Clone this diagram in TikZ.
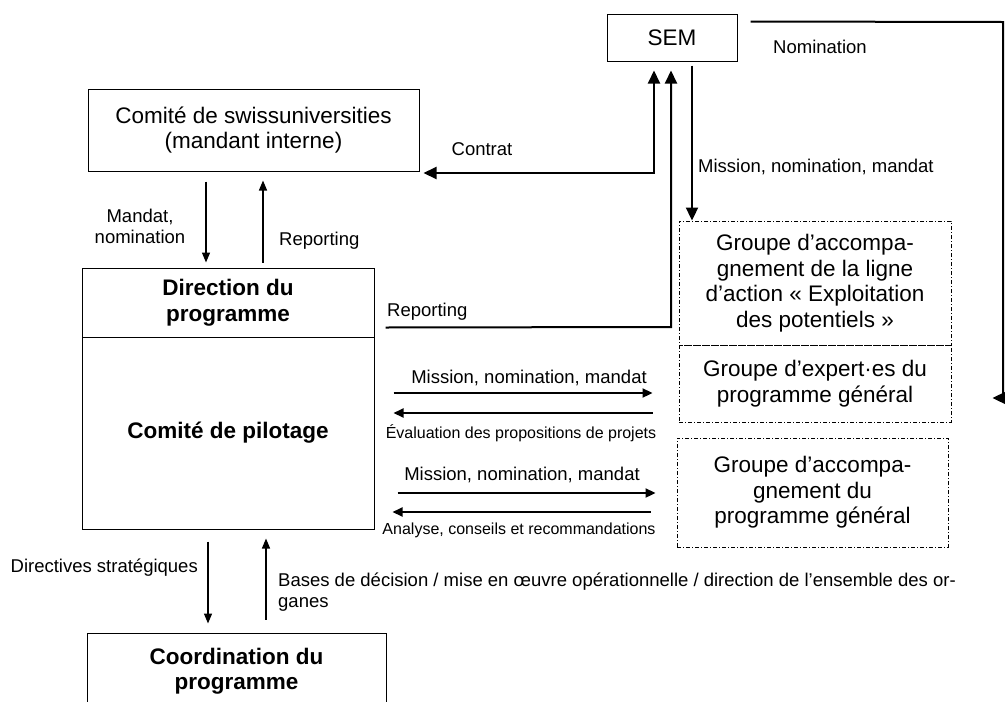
\documentclass[tikz,border=0pt]{standalone}
\usepackage{fontspec}
\setmainfont{Liberation Sans}
\usetikzlibrary{arrows.meta,calc}

\begin{document}
\begin{tikzpicture}[x=1pt,y=-1pt,
		box/.style={draw,line width=1pt,align=center,inner sep=0pt,font=\fontsize{22.5}{25.5}\selectfont},
		bold/.style={box,font=\fontsize{22.5}{25.5}\selectfont\bfseries},
		grp/.style={box,line width=0.9pt,dash pattern=on 4pt off 2pt on 1pt off 2pt},
		lbl/.style={inner sep=0pt,font=\fontsize{18.5}{21}\selectfont},
		lblsmall/.style={inner sep=0pt,font=\fontsize{16}{19}\selectfont},
		arrbig/.style={line width=2pt,>={Triangle[length=13pt,width=12pt]},->},
		arrmid/.style={line width=2pt,>={Triangle[length=10pt,width=9pt]},->},
		arrthin/.style={line width=1.4pt,>={Triangle[length=10pt,width=8pt]},->}]
		\useasboundingbox (0,0) rectangle (1005,702);
		\node[box,minimum width=331pt,minimum height=82pt] (comite) at (253.5,130) {Comité de swissuniversities\\(mandant interne)};
		\node[box,minimum width=130pt,minimum height=47pt] (sem) at (672,37.5) {SEM};
		\node[bold,minimum width=292pt,minimum height=69pt] (dir) at (228,302.5) {Direction du\\programme};
		\node[bold,minimum width=292pt,minimum height=192pt] (pil) at (228,433) {Comité de pilotage};
		\node[grp,minimum width=272pt,minimum height=124pt] (grpa) at (815,283) {Groupe d’accompa-\\gnement de la ligne\\d’action «~Exploitation\\des potentiels~»};
		\node[grp,minimum width=272pt,minimum height=77pt] (grpb) at (815,383.5) {Groupe d’expert·es du\\programme général};
		\node[grp,minimum width=271pt,minimum height=109pt] (grpc) at (812.5,492.5) {Groupe d’accompa-\\gnement du\\programme général};
		\node[bold,minimum width=299pt,minimum height=76pt] (coord) at (236.5,671) {Coordination du\\programme};
		\coordinate (c1) at (654,173);
		\coordinate (r1) at (671,327);
		\coordinate (n1) at (1003,22);
		\coordinate (n2) at (1003,398);
		\draw[arrbig,<->] ($(comite.south east|-c1)+(4,0)$) -- (c1) -- ($(sem.south-|c1)+(0,9)$);
		\draw[arrbig] ($(dir.south east)+(11,-10)$) -- (r1) -- ($(sem.south-|r1)+(0,9)$);
		\draw[arrbig] ($(sem.south)+(20,4)$) -- ($(grpa.north)+(-123,0)$);
		\draw[arrbig] ($(sem.north east)+(13,8)$) -- (n1) -- (n2) -- ($(grpb.east|-n2)+(41,0)$);
		\draw[arrthin] ($(comite.south)+(-47.5,10)$) -- ($(comite.south|-dir.north)+(-47.5,-5)$);
		\draw[arrthin] ($(comite.south|-dir.north)+(9.5,-5)$) -- ($(comite.south)+(9.5,9)$);
		\draw[arrmid] ($(pil.east)+(19,-40)$) -- ($(grpb.west)+(-26,9.5)$);
		\draw[arrmid] ($(grpb.west)+(-26,29.5)$) -- ($(pil.east)+(19,-20)$);
		\draw[arrmid] ($(pil.east)+(23,60)$) -- ($(grpc.west)+(-21,0.5)$);
		\draw[arrmid] ($(grpc.west)+(-26,19.5)$) -- ($(pil.east)+(18,79)$);
		\draw[arrthin] ($(pil.south)+(-20,12)$) -- ($(coord.north)+(-28.5,-9)$);
		\draw[arrthin] ($(coord.north)+(29.5,-13)$) -- ($(pil.south)+(38,9)$);
		\node[lbl] (lnom) at (820,47) {Nomination};
		\node[lbl,anchor=west] (lmis) at (698,167) {Mission, nomination, mandat};
		\node[lbl] (lcon) at (482,149) {Contrat};
		\node[lbl,align=center] (lman) at (140,226) {Mandat,\\nomination};
		\node[lbl,anchor=west] (lrep) at (279,241) {Reporting};
		\node[lbl,anchor=west] (lrepsem) at (387,312) {Reporting};
		\node[lbl] (lmisb) at (529,378) {Mission, nomination, mandat};
		\node[lblsmall] (leval) at (521,433) {Évaluation des propositions de projets};
		\node[lbl] (lmisc) at (522,475) {Mission, nomination, mandat};
		\node[lblsmall] (lana) at (519,530) {Analyse, conseils et recommandations};
		\node[lbl,anchor=east] (ldirect) at (198,568) {Directives stratégiques};
		\node[lbl,anchor=west,align=left] (lbases) at (278,592.5) {Bases de décision / mise en œuvre opérationnelle / direction de l’ensemble des or-\\ganes};
\end{tikzpicture}
\end{document}
